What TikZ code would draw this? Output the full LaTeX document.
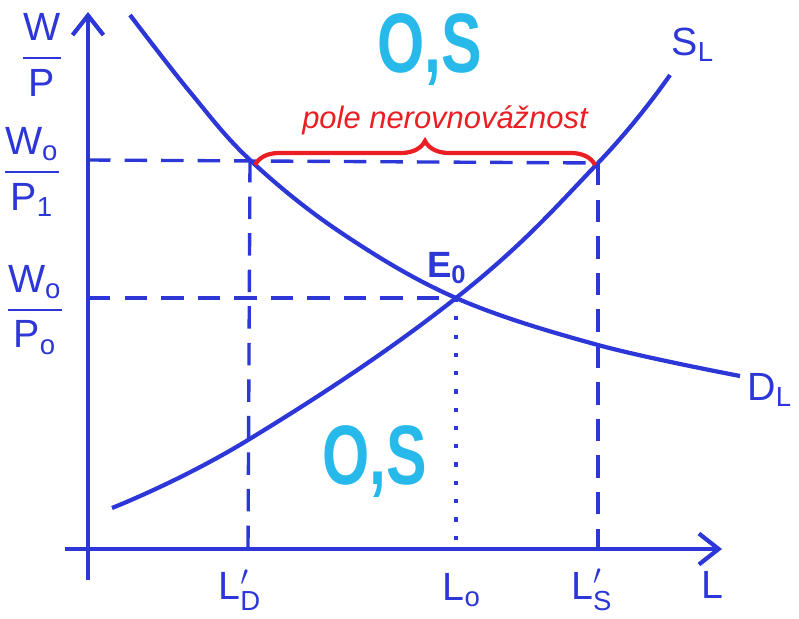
\documentclass[tikz,border=0pt]{standalone}
\usepackage{amsmath}
\usepackage{fontspec}
\setmainfont{Liberation Sans}
\usetikzlibrary{arrows.meta,decorations.pathreplacing}
\definecolor{pen}{RGB}{45,55,215}
\definecolor{marker}{RGB}{40,185,235}
\definecolor{redpen}{RGB}{235,30,35}

\begin{document}
\begin{tikzpicture}[x=0.125mm, y=-0.125mm, line width=1.5pt,
    >={Straight Barb[length=7pt,width=11pt]},
    every node/.style={font=\fontsize{14}{16}\selectfont, text=pen},
    guide/.style={pen, line width=1.2pt, dash pattern=on 8pt off 5pt},
    dotguide/.style={pen, line width=1.2pt, dash pattern=on 1.5pt off 5pt},
    zone/.style={font=\fontsize{30}{32}\selectfont\bfseries, text=marker}]
    \useasboundingbox (0,0) rectangle (799,618);

    % axes
    \coordinate (xstart) at (65,549);
    \coordinate (xend) at (722,549);
    \coordinate (ystart) at (88,580);
    \coordinate (yend) at (88,12);
    \draw[pen, ->] (xstart) -- (xend);
    \draw[pen, ->] (ystart) -- (yend);

    % points
    \coordinate (A) at (250,160);
    \coordinate (B) at (598,163);
    \coordinate (E0) at (456,298);
    \coordinate (yA) at (88,160);
    \coordinate (yE) at (88,298);
    \coordinate (xA) at (248,549);
    \coordinate (xE) at (456,549);
    \coordinate (xB) at (598,549);

    \draw[guide] (yA) -- (B);
    \draw[guide] (A) -- (xA);
    \draw[guide] (B) -- (xB);
    \draw[guide] (yE) -- (E0);
    \draw[dotguide] (E0) -- (xE);

    % curves
    \draw[pen] plot[smooth, tension=0.7] coordinates {(112,508) (248,440) (456,298) (598,163) (670,75)};
    \draw[pen] plot[smooth, tension=0.6] coordinates {(130,15) (190,92) (250,160) (340,232) (456,298) (598,345) (740,376)};

    % labels
    \node (wp) at (42,55) {$\dfrac{\text{W}}{\text{P}}$};
    \node (wp1) at (32,172) {$\dfrac{\text{W}_\text{o}}{\text{P}_\text{1}}$};
    \node (wp0) at (35,310) {$\dfrac{\text{W}_\text{o}}{\text{P}_\text{o}}$};
    \node (ld) at (240,590) {L$'_\text{D}$};
    \node (l0) at (462,590) {L$_\text{o}$};
    \node (ls) at (592,590) {L$'_\text{S}$};
    \node (l) at (712,585) {L};
    \node (sl) at (693,45) {S$_\text{L}$};
    \node (dl) at (770,390) {D$_\text{L}$};
    \node[font=\fontsize{13}{15}\selectfont\bfseries] (e0) at (447,268) {E$_\text{0}$};

    \node[zone] (top) at (430,50) {\scalebox{0.72}[1]{O,S}};
    \node[zone] (bottom) at (375,462) {\scalebox{0.72}[1]{O,S}};

    \draw[redpen, decorate, decoration={brace, amplitude=3mm}] (255,165) -- (595,165);
    \node[text=redpen, font=\fontsize{11}{13}\selectfont\itshape] (gap) at (445,120) {pole nerovnovážnost};
\end{tikzpicture}
\end{document}
